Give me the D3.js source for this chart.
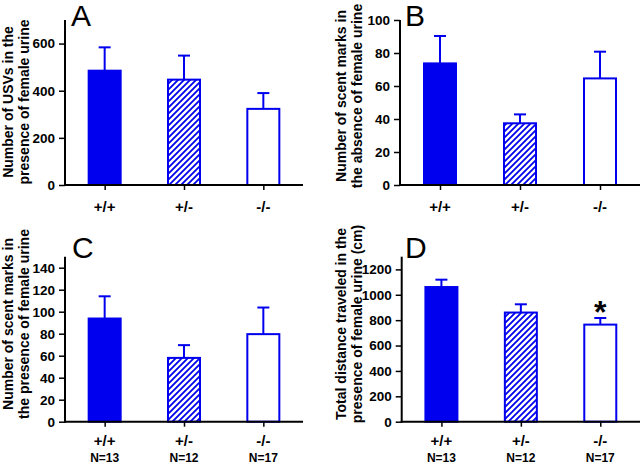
<!DOCTYPE html>
<html>
<head>
<meta charset="utf-8">
<script src="https://cdn.jsdelivr.net/npm/d3@7"></script>
<style>
  html, body { margin: 0; padding: 0; background: #fff; }
  svg { display: block; font-family: "Liberation Sans", Arial, sans-serif; }
</style>
</head>
<body>
<svg id="chart" width="640" height="465"></svg>
<script>
// ---- data ----
const genotypes = ["+/+", "+/-", "-/-"];
const groupN = ["N=13", "N=12", "N=17"];
const fills = ["solid", "hatch", "open"];

const usvMean = [485, 447, 323];
const usvSem = [99, 102, 67];
const usvTicks = [0, 200, 400, 600];

const scentAbsentMean = [73.7, 37.4, 64.6];
const scentAbsentSem = [16.6, 5.4, 16.2];
const scentAbsentTicks = [0, 20, 40, 60, 80, 100];

const scentPresentMean = [93.8, 58, 79.6];
const scentPresentSem = [20.2, 11.6, 24.2];
const scentPresentTicks = [0, 20, 40, 60, 80, 100, 120, 140];

const distanceMean = [1061, 860, 765];
const distanceSem = [58, 65, 52];
const distanceTicks = [0, 200, 400, 600, 800, 1000, 1200];

const significance = ["", "", "*"];

// ---- drawing ----
const BLUE = "#0000ee";
const svg = d3.select("#chart");
const defs = svg.append("defs");
const HS = 6;
const pat = defs.append("pattern")
  .attr("id", "hatch").attr("patternUnits", "userSpaceOnUse")
  .attr("width", HS).attr("height", HS);
pat.append("rect").attr("width", HS).attr("height", HS).attr("fill", "#fff");
pat.append("path")
  .attr("d", `M-1,1 L1,-1 M0,${HS} L${HS},0 M${HS - 1},${HS + 1} L${HS + 1},${HS - 1}`)
  .attr("stroke", BLUE).attr("stroke-width", 1.8);

const panels = [
  { letter: "A", means: usvMean, sem: usvSem, ticks: usvTicks, max: 700,
    x0: 65, x1: 303, y0: 185, y1: 20, letterX: 71, letterY: 26,
    label: ["Number of USVs in the", "presence of female urine"], labX: [13, 29], labY: 102,
    showN: false, gy: 212 },
  { letter: "B", means: scentAbsentMean, sem: scentAbsentSem, ticks: scentAbsentTicks, max: 100,
    x0: 400, x1: 640, y0: 185, y1: 20, letterX: 405, letterY: 26,
    label: ["Number of scent marks in", "the absence of female urine"], labX: [346, 362], labY: 96,
    showN: false, gy: 212 },
  { letter: "C", means: scentPresentMean, sem: scentPresentSem, ticks: scentPresentTicks, max: 150,
    x0: 65, x1: 303, y0: 421.7, y1: 256.7, letterX: 72, letterY: 258,
    label: ["Number of scent marks in", "the presence of female urine"], labX: [13, 29], labY: 324,
    showN: true, gy: 446 },
  { letter: "D", means: distanceMean, sem: distanceSem, ticks: distanceTicks, max: 1300,
    x0: 401.7, x1: 640, y0: 421.7, y1: 256.7, letterX: 405, letterY: 258,
    label: ["Total distance traveled in the", "presence of female urine (cm)"], labX: [346, 362], labY: 324,
    showN: true, gy: 446, stars: true },
];

panels.forEach(p => {
  const g = svg.append("g");
  const x = d3.scalePoint().domain(genotypes).range([p.x0, p.x1]).padding(0.5);
  const y = d3.scaleLinear().domain([0, p.max]).range([p.y0, p.y1]);
  const bw = 32;

  genotypes.forEach((gt, i) => {
    const cx = x(gt);
    const top = y(p.means[i]);
    const errTop = y(p.means[i] + p.sem[i]);
    g.append("line").attr("x1", cx).attr("x2", cx).attr("y1", top).attr("y2", errTop)
      .attr("stroke", BLUE).attr("stroke-width", 2);
    g.append("line").attr("x1", cx - 6).attr("x2", cx + 6).attr("y1", errTop).attr("y2", errTop)
      .attr("stroke", BLUE).attr("stroke-width", 2);
    const f = fills[i];
    g.append("rect")
      .attr("x", cx - bw / 2).attr("y", top)
      .attr("width", bw).attr("height", y(0) - top)
      .attr("fill", f === "solid" ? BLUE : f === "hatch" ? "url(#hatch)" : "#fff")
      .attr("stroke", BLUE).attr("stroke-width", 2);
    if (p.stars && significance[i]) {
      g.append("text").attr("x", cx).attr("y", errTop + 5)
        .attr("text-anchor", "middle").attr("font-size", 32).attr("font-weight", "bold")
        .text(significance[i]);
    }
  });

  const ya = g.append("g").attr("transform", `translate(${p.x0},0)`)
    .call(d3.axisLeft(y).tickValues(p.ticks).tickFormat(d3.format("d"))
      .tickSize(6).tickPadding(4).tickSizeOuter(0));
  ya.select(".domain").attr("d", `M0,${p.y0 + 1}V${p.y1}`).attr("stroke-width", 2);
  ya.selectAll(".tick line").attr("stroke-width", 1.5);
  ya.selectAll(".tick text").attr("font-size", 13.5).attr("font-weight", "bold")
    .attr("font-family", "Liberation Sans, Arial, sans-serif").attr("fill", "#000");

  const xa = g.append("g").attr("transform", `translate(0,${p.y0})`)
    .call(d3.axisBottom(x).tickSize(5).tickSizeOuter(0).tickFormat(""));
  xa.select(".domain").attr("d", `M${p.x0 - 1},0H${p.x1}`).attr("stroke-width", 2);
  xa.selectAll(".tick line").attr("stroke-width", 1.5);

  genotypes.forEach((gt, i) => {
    g.append("text").attr("x", x(gt)).attr("y", p.gy)
      .attr("text-anchor", "middle").attr("font-size", 15).attr("font-weight", "bold")
      .text(gt);
    if (p.showN) {
      g.append("text").attr("x", x(gt)).attr("y", p.gy + 16)
        .attr("text-anchor", "middle").attr("font-size", 12).attr("font-weight", "bold")
        .text(groupN[i]);
    }
  });

  p.label.forEach((t, j) => {
    g.append("text")
      .attr("transform", `translate(${p.labX[j]},${p.labY}) rotate(-90)`)
      .attr("text-anchor", "middle").attr("font-size", 14).attr("font-weight", "bold")
      .text(t);
  });

  g.append("text").attr("x", p.letterX).attr("y", p.letterY)
    .attr("font-size", 30).text(p.letter);
});
</script>
</body>
</html>
